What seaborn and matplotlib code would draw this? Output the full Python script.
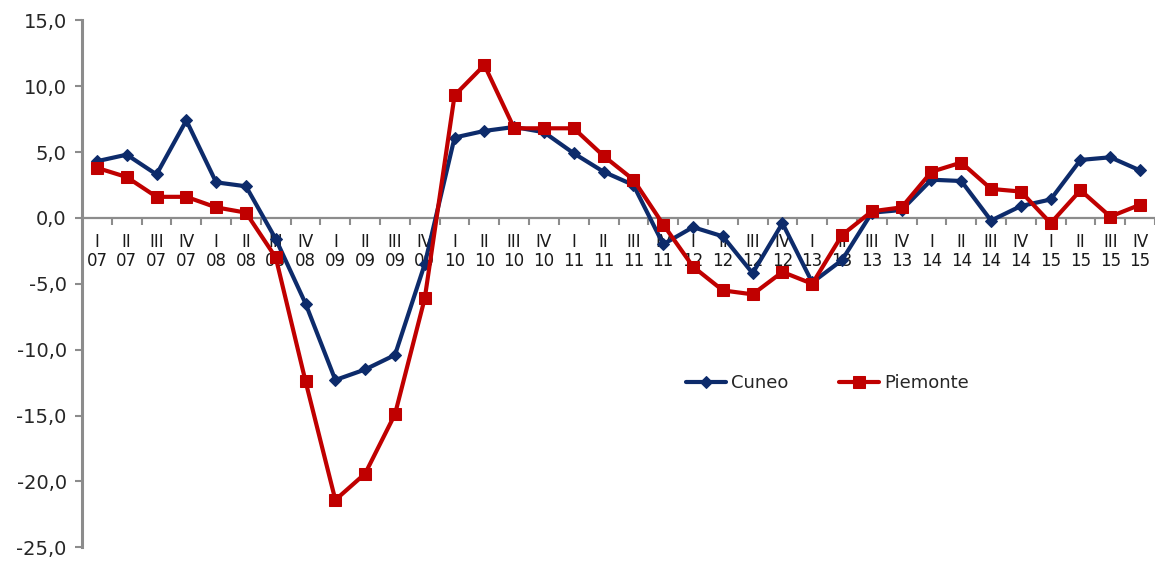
import matplotlib
matplotlib.use('Agg')
import matplotlib.pyplot as plt
import matplotlib.ticker as mticker
import pandas as pd
import seaborn as sns

# Data (quarterly, 2007-2015)
quarters = ['I', 'II', 'III', 'IV'] * 9
years = [y for y in ['07', '08', '09', '10', '11', '12', '13', '14', '15'] for _ in range(4)]
tick_labels = [q + '\n' + y for q, y in zip(quarters, years)]

cuneo = [4.3, 4.8, 3.3, 7.4, 2.7, 2.4, -1.6, -6.5, -12.3, -11.5, -10.4, -3.5,
         6.1, 6.6, 6.9, 6.5, 4.9, 3.5, 2.5, -2.0, -0.7, -1.4, -4.2, -0.4,
         -4.9, -3.2, 0.4, 0.6, 2.9, 2.8, -0.2, 0.9, 1.4, 4.4, 4.6, 3.6]
piemonte = [3.8, 3.1, 1.6, 1.6, 0.8, 0.4, -3.0, -12.4, -21.4, -19.4, -14.9, -6.1,
            9.3, 11.6, 6.8, 6.8, 6.8, 4.7, 2.9, -0.5, -3.7, -5.5, -5.8, -4.1,
            -5.0, -1.3, 0.5, 0.8, 3.5, 4.2, 2.2, 2.0, -0.4, 2.1, 0.1, 1.0]

df = pd.DataFrame({'pos': range(len(tick_labels)), 'Cuneo': cuneo, 'Piemonte': piemonte})

sns.set_style('white')
plt.rcParams['font.family'] = ['DejaVu Sans']

fig = plt.figure(figsize=(11.55, 5.62), dpi=100)
ax = fig.add_axes([0.071, 0.026, 0.929, 0.938])

sns.lineplot(data=df, x='pos', y='Cuneo', ax=ax, color='#0d2b6b', linewidth=3,
             marker='D', markersize=6.5, markeredgecolor='#0d2b6b', label='Cuneo', zorder=3)
sns.lineplot(data=df, x='pos', y='Piemonte', ax=ax, color='#c00000', linewidth=3,
             marker='s', markersize=9, markeredgecolor='#c00000', label='Piemonte', zorder=3)

ax.set_xlim(-0.5, len(tick_labels) - 0.5)
ax.set_ylim(-25, 15)
ax.set_xlabel('')
ax.set_ylabel('')

# axes styling
for s in ['top', 'right']:
    ax.spines[s].set_visible(False)
ax.spines['left'].set_color('#8c8c8c')
ax.spines['left'].set_linewidth(2.2)
ax.spines['bottom'].set_position(('data', 0))
ax.spines['bottom'].set_color('#8c8c8c')
ax.spines['bottom'].set_linewidth(1.6)

ax.set_yticks(range(-25, 16, 5))
ax.yaxis.set_major_formatter(mticker.FuncFormatter(lambda v, p: f'{v:.1f}'.replace('.', ',')))
ax.tick_params(axis='y', length=5, width=1.5, color='#8c8c8c', labelsize=14,
               labelcolor='#262626', pad=6, left=True)

ax.set_xticks(df['pos'])
ax.set_xticklabels(tick_labels, fontsize=12, linespacing=1.05)
ax.xaxis.set_minor_locator(mticker.FixedLocator([p + 0.5 for p in df['pos']]))
ax.tick_params(axis='x', which='major', length=0, pad=11, labelcolor='#1a1a1a')
ax.tick_params(axis='x', which='minor', length=5, width=1.5, color='#8c8c8c',
               direction='out', bottom=True)

ax.legend(loc='center', bbox_to_anchor=(0.695, 0.311), ncol=2, frameon=False,
          fontsize=13, handlelength=2.2, handletextpad=0.3, columnspacing=2.8)

fig.savefig('out.png', dpi=100)
